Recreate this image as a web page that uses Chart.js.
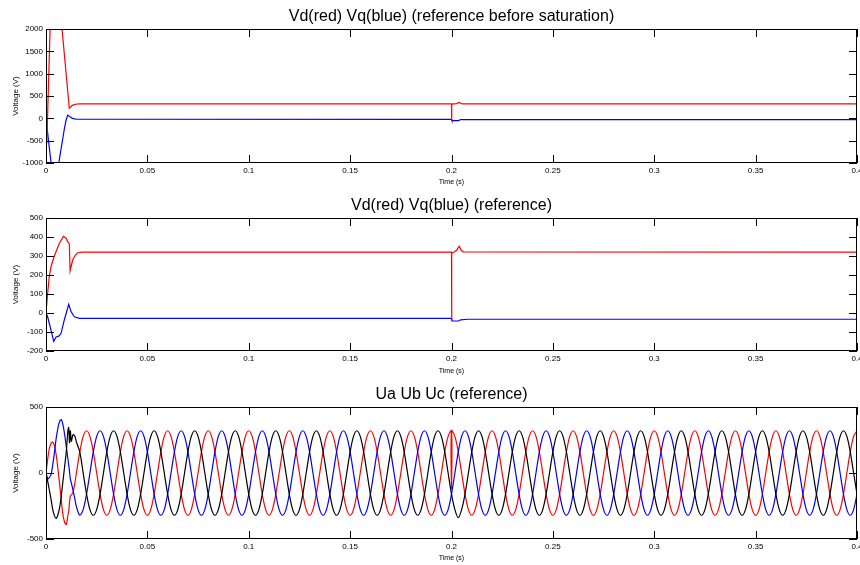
<!DOCTYPE html>
<html>
<head>
<meta charset="utf-8">
<script src="https://cdn.jsdelivr.net/npm/chart.js@4/dist/chart.umd.min.js"></script>
<style>
  html, body { margin: 0; padding: 0; background: #fff; }
  #page { position: relative; width: 860px; height: 565px; overflow: hidden; }
  .panel { position: absolute; left: 0; width: 860px; }
  canvas { display: block; }
</style>
</head>
<body>
<div id="page">
  <div class="panel" style="top:0px"><canvas id="chart-sat" width="860" height="189"></canvas></div>
  <div class="panel" style="top:189px"><canvas id="chart-ref" width="860" height="189"></canvas></div>
  <div class="panel" style="top:378px"><canvas id="chart-abc" width="860" height="187"></canvas></div>
</div>
<script>
// ---- data ----

// panel 1: Vd / Vq before saturation
const vdSatTime = [0, 0.0004, 0.0022, 0.004, 0.006, 0.0079, 0.0115, 0.013, 0.0145, 0.0165, 0.2, 0.2, 0.2002, 0.2025, 0.2037, 0.2047, 0.206, 0.4];
const vdSatVolts = [0, -560, 2300, 3800, 3000, 2000, 225, 290, 315, 325, 325, -40, 318, 330, 355, 330, 325, 325];
const vqSatTime = [0, 0.0025, 0.0045, 0.0063, 0.009, 0.0098, 0.0107, 0.012, 0.013, 0.015, 0.2, 0.2002, 0.2035, 0.2045, 0.4];
const vqSatVolts = [0, -1000, -1600, -1000, -250, -60, 72, 30, 0, -20, -22, -50, -50, -28, -28];

// panel 2: Vd / Vq reference
const vdTime = [0, 0.0008, 0.0016, 0.0025, 0.0041, 0.0066, 0.0086, 0.0098, 0.0107, 0.0115, 0.0119, 0.0125, 0.0132, 0.0145, 0.0157, 0.018, 0.2, 0.2, 0.2002, 0.201, 0.2025, 0.2038, 0.2048, 0.2058, 0.4];
const vdVolts = [0, 103, 190, 245, 300, 367, 403, 395, 375, 365, 222, 250, 280, 305, 317, 320, 320, -35, 315, 318, 330, 352, 330, 322, 320];
const vqTime = [0, 0.0008, 0.0025, 0.0038, 0.005, 0.0063, 0.0074, 0.009, 0.0112, 0.0124, 0.014, 0.0165, 0.2, 0.2002, 0.2035, 0.2045, 0.208, 0.4];
const vqVolts = [0, -20, -91, -149, -126, -122, -108, -38, 46, 6, -20, -28, -28, -42, -42, -36, -33, -33];

// panel 3: Ua Ub Uc, start-up part (own time points)
const startTime = [0, 0.0008, 0.0016, 0.0025, 0.0033, 0.0042, 0.005, 0.0058, 0.0067, 0.0075, 0.0083, 0.0092, 0.01, 0.0108, 0.0112, 0.0116, 0.012, 0.0125, 0.0133, 0.0142, 0.015];
const uaStart = [0, 100, 180, 225, 235, 205, 140, 40, -80, -200, -310, -375, -390, -320, -290, -220, -175, -165, -150, -80, 0];
const ubStart = [0, -45, -35, -10, 60, 160, 260, 335, 390, 405, 370, 290, 200, 110, 60, 10, -45, -75, -130, -195, -255];
const ucStart = [0, -60, -125, -200, -275, -325, -345, -320, -265, -180, -70, 50, 160, 320, 345, 230, 320, 240, 290, 280, 235];

// panel 3: rest of the waveforms, one sample every 1/600 s from sample 10 (t = 0.01667 s) to 0.4 s
const SAMPLE_RATE = 600;
const FIRST_SAMPLE = 10;
const uaWave = [
  160, 277,
  320, 277, 160, 0, -160, -277, -320, -277, -160, 0, 160, 277,
  320, 277, 160, 0, -160, -277, -320, -277, -160, 0, 160, 277,
  320, 277, 160, 0, -160, -277, -320, -277, -160, 0, 160, 277,
  320, 277, 160, 0, -160, -277, -320, -277, -160, 0, 160, 277,
  320, 277, 160, 0, -160, -277, -320, -277, -160, 0, 160, 277,
  320, 277, 160, 0, -160, -277, -320, -277, -160, 0, 160, 277,
  320, 277, 160, 0, -160, -277, -320, -277, -160, 0, 160, 277,
  320, 277, 160, 0, -160, -277, -320, -277, -160, 0, 160, 277,
  320, 277, 160, 0, -160, -277, -320, -277, -160, 0, 160, 277,
  320, 277, 160, 0, -160, -277, -320, -277, -160, 0, 160, 277,
  320, 277, 160, 0, -160, -277, -320, -277, -160, 0, 160, 277,
  320, 277, 160, 0, -160, -277, -320, -277, -160, 0, 160, 277,
  320, 277, 160, 0, -160, -277, -320, -277, -160, 0, 160, 277,
  320, 277, 160, 0, -160, -277, -320, -277, -160, 0, 160, 277,
  320, 277, 160, 0, -160, -277, -320, -277, -160, 0, 160, 277,
  320, 277, 160, 0, -160, -277, -320, -277, -160, 0, 160, 277,
  320, 277, 160, 0, -160, -277, -320, -277, -160, 0, 160, 277,
  320, 277, 160, 0, -160, -277, -320, -277, -160, 0, 160, 277,
  320, 277, 160, 0, -160, -277, -320, -277, -160, 0, 160, 277,
  320
];
const ubWave = [
  -320, -277,
  -160, 0, 160, 277, 320, 277, 160, 0, -160, -277, -320, -277,
  -160, 0, 160, 277, 320, 277, 160, 0, -160, -277, -320, -277,
  -160, 0, 160, 277, 320, 277, 160, 0, -160, -277, -320, -277,
  -160, 0, 160, 277, 320, 277, 160, 0, -160, -277, -320, -277,
  -160, 0, 160, 277, 320, 277, 160, 0, -160, -277, -320, -277,
  -160, 0, 160, 277, 320, 277, 160, 0, -160, -277, -320, -277,
  -160, 0, 160, 277, 320, 277, 160, 0, -160, -277, -320, -277,
  -160, 0, 160, 277, 320, 277, 160, 0, -160, -277, -320, -277,
  -160, 0, 160, 277, 320, 277, 160, 0, -160, -277, -320, -277,
  -160, 0, 160, 277, 320, 277, 160, 0, -160, -277, -320, -277,
  -160, 0, 160, 277, 320, 277, 160, 0, -160, -277, -320, -277,
  -160, 0, 160, 277, 320, 277, 160, 0, -160, -277, -320, -277,
  -160, 0, 160, 277, 320, 277, 160, 0, -160, -277, -320, -277,
  -160, 0, 160, 277, 320, 277, 160, 0, -160, -277, -320, -277,
  -160, 0, 160, 277, 320, 277, 160, 0, -160, -277, -320, -277,
  -160, 0, 160, 277, 320, 277, 160, 0, -160, -277, -320, -277,
  -160, 0, 160, 277, 320, 277, 160, 0, -160, -277, -320, -277,
  -160, 0, 160, 277, 320, 277, 160, 0, -160, -277, -320, -277,
  -160, 0, 160, 277, 320, 277, 160, 0, -160, -277, -320, -277,
  -160
];
const ucWave = [
  160, 0,
  -160, -277, -320, -277, -160, 0, 160, 277, 320, 277, 160, 0,
  -160, -277, -320, -277, -160, 0, 160, 277, 320, 277, 160, 0,
  -160, -277, -320, -277, -160, 0, 160, 277, 320, 277, 160, 0,
  -160, -277, -320, -277, -160, 0, 160, 277, 320, 277, 160, 0,
  -160, -277, -320, -277, -160, 0, 160, 277, 320, 277, 160, 0,
  -160, -277, -320, -277, -160, 0, 160, 277, 320, 277, 160, 0,
  -160, -277, -320, -277, -160, 0, 160, 277, 320, 277, 160, 0,
  -160, -277, -320, -277, -160, 0, 160, 277, 320, 277, 160, 0,
  -160, -277, -320, -277, -160, 0, 160, 277, 320, 277, 160, 0,
  -160, -277, -338, -277, -160, 0, 160, 277, 320, 277, 160, 0,
  -160, -277, -320, -277, -160, 0, 160, 277, 320, 277, 160, 0,
  -160, -277, -320, -277, -160, 0, 160, 277, 320, 277, 160, 0,
  -160, -277, -320, -277, -160, 0, 160, 277, 320, 277, 160, 0,
  -160, -277, -320, -277, -160, 0, 160, 277, 320, 277, 160, 0,
  -160, -277, -320, -277, -160, 0, 160, 277, 320, 277, 160, 0,
  -160, -277, -320, -277, -160, 0, 160, 277, 320, 277, 160, 0,
  -160, -277, -320, -277, -160, 0, 160, 277, 320, 277, 160, 0,
  -160, -277, -320, -277, -160, 0, 160, 277, 320, 277, 160, 0,
  -160, -277, -320, -277, -160, 0, 160, 277, 320, 277, 160, 0,
  -160
];
// glitch on Ua at the 0.2 s step
const uaGlitchTime = [0.2, 0.2];
const uaGlitchVolts = [-120, 320];

// ---- drawing ----
const FONT = '"Liberation Sans", Arial, Helvetica, sans-serif';
const TICK_LEN = 8;
const RED = '#ff0000';
const BLUE = '#0000ff';
const BLACK = '#000000';

function pairs(times, volts) {
  return times.map((t, i) => ({ x: t, y: volts[i] }));
}

function wavePoints(startVolts, wave, extraTime = [], extraVolts = []) {
  const pts = pairs(startTime, startVolts);
  wave.forEach((v, i) => pts.push({ x: (FIRST_SAMPLE + i) / SAMPLE_RATE, y: v }));
  extraTime.forEach((t, i) => pts.push({ x: t, y: extraVolts[i] }));
  return pts.sort((a, b) => a.x - b.x);
}

function line(data, color, tension = 0) {
  return { data, borderColor: color, borderWidth: 1.2, pointRadius: 0, tension, fill: false };
}

// MATLAB-like box with inward ticks on all four sides
const boxTicks = {
  id: 'boxTicks',
  afterDatasetsDraw(chart) {
    const { ctx, chartArea: a, scales: { x, y } } = chart;
    ctx.save();
    ctx.strokeStyle = '#000';
    ctx.lineWidth = 1;
    ctx.beginPath();
    x.ticks.forEach(t => {
      const px = Math.round(x.getPixelForValue(t.value)) + 0.5;
      ctx.moveTo(px, a.bottom);
      ctx.lineTo(px, a.bottom - TICK_LEN);
      ctx.moveTo(px, a.top);
      ctx.lineTo(px, a.top + TICK_LEN);
    });
    y.ticks.forEach(t => {
      const py = Math.round(y.getPixelForValue(t.value)) + 0.5;
      ctx.moveTo(a.left, py);
      ctx.lineTo(a.left + TICK_LEN, py);
      ctx.moveTo(a.right, py);
      ctx.lineTo(a.right - TICK_LEN, py);
    });
    ctx.stroke();
    ctx.strokeRect(a.left + 0.5, a.top + 0.5, a.width - 1, a.height - 1);
    ctx.restore();
  }
};

function makeChart(canvasId, title, yMin, yMax, yStep, datasets, xAxisHeight) {
  const ctx = document.getElementById(canvasId).getContext('2d');
  return new Chart(ctx, {
    type: 'line',
    data: { datasets },
    plugins: [boxTicks],
    options: {
      responsive: false,
      animation: false,
      devicePixelRatio: 1,
      layout: { padding: { left: 0, right: 3, top: 0, bottom: 0 } },
      plugins: {
        legend: { display: false },
        tooltip: { enabled: false },
        title: {
          display: true,
          fullSize: false,
          text: title,
          color: '#000',
          font: { family: FONT, size: 16, weight: 'normal' },
          padding: { top: 7.4, bottom: 2.4 }
        }
      },
      scales: {
        x: {
          type: 'linear',
          min: 0,
          max: 0.4,
          grid: { display: false, drawTicks: false },
          border: { display: false },
          ticks: {
            stepSize: 0.05,
            padding: 3,
            maxRotation: 0,
            autoSkip: false,
            color: '#000',
            font: { family: FONT, size: 8 },
            callback: v => String(+v.toFixed(2))
          },
          title: {
            display: true,
            text: 'Time (s)',
            color: '#000',
            font: { family: FONT, size: 7 },
            padding: { top: 0, bottom: 2.5 }
          },
          afterFit: s => {
            s.height = xAxisHeight;
            s.paddingLeft = 0;
            s.paddingRight = 0;
          }
        },
        y: {
          min: yMin,
          max: yMax,
          grid: { display: false, drawTicks: false },
          border: { display: false },
          ticks: {
            stepSize: yStep,
            padding: 3,
            color: '#000',
            font: { family: FONT, size: 8 },
            callback: v => String(v)
          },
          title: {
            display: true,
            text: 'Voltage (V)',
            color: '#000',
            font: { family: FONT, size: 8 },
            padding: { top: 10.5, bottom: 0 }
          },
          afterFit: s => {
            s.width = 46;
            s.paddingTop = 0;
            s.paddingBottom = 0;
          }
        }
      }
    }
  });
}

makeChart('chart-sat', 'Vd(red) Vq(blue) (reference before saturation)', -1000, 2000, 500, [
  line(pairs(vdSatTime, vdSatVolts), RED),
  line(pairs(vqSatTime, vqSatVolts), BLUE)
], 26);

makeChart('chart-ref', 'Vd(red) Vq(blue) (reference)', -200, 500, 100, [
  line(pairs(vdTime, vdVolts), RED),
  line(pairs(vqTime, vqVolts), BLUE)
], 27);

makeChart('chart-abc', 'Ua Ub Uc (reference)', -500, 500, 500, [
  line(wavePoints(ucStart, ucWave), BLACK, 0.3),
  line(wavePoints(ubStart, ubWave), BLUE, 0.3),
  line(wavePoints(uaStart, uaWave, uaGlitchTime, uaGlitchVolts), RED, 0.3)
], 26);
</script>
</body>
</html>
